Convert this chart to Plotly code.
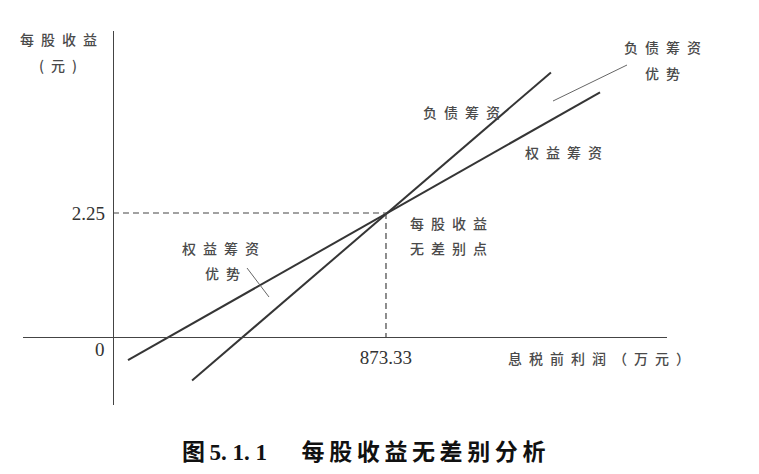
import plotly.graph_objects as go

# EBIT (万元) vs EPS (元)
ebit_equity = [48, 1558]
eps_equity = [-0.42, 4.44]
ebit_debt = [253, 1401]
eps_debt = [-0.79, 4.80]

ebit_star = 873.33
eps_star = 2.25

# page body keeps an 8px margin, so the figure is a bit smaller and shifted
OFF = 8
W, H = 743, 458
X_RANGE = [-287.9, 1772.3]
Y_RANGE = [-1.234, 5.552]
CJK = "Noto Sans CJK SC"
SERIF = "Liberation Serif"
INK = "#353535"
TXT = "#4a4a4a"


def px(x, y):
    """pixel position in the reference picture -> paper fraction"""
    return (x - OFF) / W, 1 - (y - OFF) / H


def spaced(s, sep="\u2002"):
    return sep.join(s)


fig = go.Figure()

line_style = dict(color=INK, width=2)
fig.add_trace(go.Scatter(x=ebit_equity, y=eps_equity, mode="lines", line=line_style))
fig.add_trace(go.Scatter(x=ebit_debt, y=eps_debt, mode="lines", line=line_style))

dash_style = dict(color="#444444", width=1.2, dash="6px,4px")
fig.add_trace(go.Scatter(x=[0, ebit_star], y=[eps_star, eps_star], mode="lines", line=dash_style))
fig.add_trace(go.Scatter(x=[ebit_star, ebit_star], y=[eps_star, 0], mode="lines", line=dash_style))

labels = [
    (spaced("每股收益"), 58, 39),
    ("(\u2002元\u2002)", 58, 65),
    (spaced("负债筹资"), 461, 112),
    (spaced("权益筹资"), 563, 152),
    (spaced("负债筹资"), 662, 47),
    (spaced("优势"), 662, 73),
    (spaced("权益筹资"), 221, 248),
    (spaced("优势"), 222, 273),
    (spaced("每股收益"), 448, 223),
    (spaced("无差别点"), 448, 248),
    (spaced("息税前利润（万元）"), 599, 358),
]
for text, x, y in labels:
    ax_, ay_ = px(x, y)
    fig.add_annotation(x=ax_, y=ay_, xref="paper", yref="paper", text=text,
                       showarrow=False, xanchor="center", yanchor="middle",
                       font=dict(family=CJK, size=14, color=TXT, weight=500))

zx, zy = px(100, 349)
fig.add_annotation(x=zx, y=zy, xref="paper", yref="paper", text="0", showarrow=False,
                   xanchor="center", yanchor="middle",
                   font=dict(family=SERIF, size=19, color="#333333"))

cx, cy = px(363, 450)
fig.add_annotation(x=cx, y=cy, xref="paper", yref="paper",
                   text="<b>图\u2009<span style='font-family:Liberation Serif'>5. 1. 1</span>"
                        "\u2003\u2002" + spaced("每股收益无差别分析", "\u2009") + "</b>",
                   showarrow=False, xanchor="center", yanchor="middle",
                   font=dict(family=CJK, size=23, color="#111111"))

# leader lines for the "优势" notes
for (x0, y0), (x1, y1) in [((553, 101), (627, 65)), ((247, 268), (269, 297))]:
    p0, p1 = px(x0, y0), px(x1, y1)
    fig.add_shape(type="line", xref="paper", yref="paper",
                  x0=p0[0], y0=p0[1], x1=p1[0], y1=p1[1],
                  line=dict(color="#666666", width=1))

x_dom = [px(23, 0)[0], px(667, 0)[0]]
y_dom = [px(0, 405)[1], px(0, 31)[1]]
x_zero = px(113, 0)[0]
y_zero = px(0, 337)[1]

fig.update_layout(
    width=W, height=H,
    margin=dict(l=0, r=0, t=0, b=0),
    paper_bgcolor="white", plot_bgcolor="white",
    showlegend=False,
    xaxis=dict(domain=x_dom, range=X_RANGE, anchor="free", position=y_zero,
               showline=True, linecolor="#444444", linewidth=1.3,
               showgrid=False, zeroline=False,
               tickmode="array", tickvals=[ebit_star], ticktext=["873.33"],
               ticks="", ticklabelstandoff=3,
               tickfont=dict(family=SERIF, size=19, color="#333333")),
    yaxis=dict(domain=y_dom, range=Y_RANGE, anchor="free", position=x_zero,
               showline=True, linecolor="#444444", linewidth=1.3,
               showgrid=False, zeroline=False,
               tickmode="array", tickvals=[eps_star], ticktext=["2.25"],
               ticks="", ticklabelstandoff=4,
               tickfont=dict(family=SERIF, size=19, color="#333333")),
)

fig.write_html("out.html")
